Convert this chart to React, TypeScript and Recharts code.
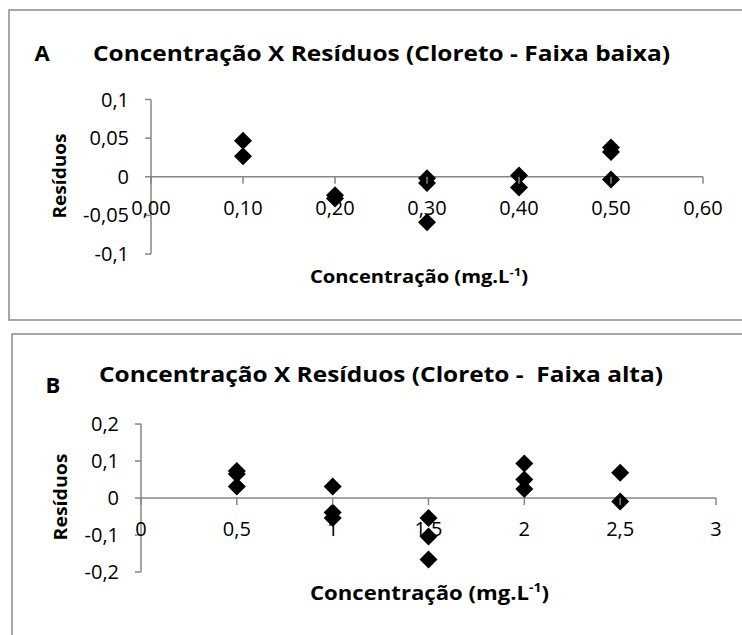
import React from 'react';
import { ScatterChart, Scatter, XAxis, YAxis, ReferenceLine } from 'recharts';

// Chart A: Cloreto - Faixa baixa
const concA = [0.1, 0.1, 0.2, 0.2, 0.3, 0.3, 0.3, 0.4, 0.4, 0.5, 0.5, 0.5];
const residA = [0.0465, 0.0265, -0.024, -0.028, -0.002, -0.008, -0.059, 0.0015, -0.014, 0.038, 0.032, -0.0035];
const ticksAX = [0, 0.1, 0.2, 0.3, 0.4, 0.5, 0.6];
const ticksAY = [-0.1, -0.05, 0, 0.05, 0.1];

// Chart B: Cloreto - Faixa alta
const concB = [0.5, 0.5, 0.5, 1, 1, 1, 1.5, 1.5, 1.5, 2, 2, 2, 2.5, 2.5];
const residB = [0.073, 0.065, 0.031, 0.031, -0.039, -0.054, -0.054, -0.104, -0.166, 0.093, 0.05, 0.024, 0.068, -0.0095];
const ticksBX = [0, 0.5, 1, 1.5, 2, 2.5, 3];
const ticksBY = [-0.2, -0.1, 0, 0.1, 0.2];

const titleA = 'Concentração X Resíduos (Cloreto - Faixa baixa)';
const titleB = 'Concentração X Resíduos (Cloreto -  Faixa alta)';
const yTitle = 'Resíduos';
const xTitle = 'Concentração (mg.L';

const dataA = concA.map((x, i) => ({ x, y: residA[i] }));
const dataB = concB.map((x, i) => ({ x, y: residB[i] }));

const FONT = '"Open Sans", "Noto Sans", sans-serif';
const AXIS = '#868686';

const comma = (v: number) => String(v).replace('.', ',');
const fmt2 = (v: number) => v.toFixed(2).replace('.', ',');

const Diamond = (props: any) => {
  const { cx, cy } = props;
  if (cx == null || cy == null) return null;
  const r = 9;
  return <path d={`M${cx},${cy - r}L${cx + r},${cy}L${cx},${cy + r}L${cx - r},${cy}Z`} fill="#000" />;
};

const XTick = (props: any) => {
  const { x, payload, zeroY, fmt } = props;
  return (
    <g>
      <line x1={x} x2={x} y1={zeroY} y2={zeroY + 7} stroke={AXIS} strokeWidth={1.5} />
      <text x={x} y={zeroY + 38} textAnchor="middle" fontSize={20} fontFamily={FONT} fill="#000">
        {fmt(payload.value)}
      </text>
    </g>
  );
};

const yTickStyle = { fill: '#000', fontSize: 20, fontFamily: FONT };

export default function App() {
  return (
    <div style={{ position: 'absolute', left: 0, top: 0, width: 742, height: 635, overflow: 'hidden', background: '#fff' }}>
      <svg width={742} height={635} style={{ position: 'absolute', left: 0, top: 0 }}>
        <rect x={9} y={10} width={800} height={310} fill="#fff" stroke="#8a8a8a" strokeWidth={1.5} />
        <rect x={12} y={334} width={800} height={400} fill="#fff" stroke="#8a8a8a" strokeWidth={1.5} />
        {/* Chart A texts */}
        <text x={42} y={61} textAnchor="middle" fontSize={22} fontWeight="bold" fontFamily={FONT} fill="#000">A</text>
        <text x={93} y={61} fontSize={22} fontWeight="bold" fontFamily={FONT} fill="#000" textLength={577} lengthAdjust="spacingAndGlyphs">{titleA}</text>
        <text x={66} y={176} transform="rotate(-90, 66, 176)" textAnchor="middle" fontSize={17} fontWeight="bold" fontFamily={FONT} fill="#000" textLength={85} lengthAdjust="spacingAndGlyphs">{yTitle}</text>
        <text x={310} y={283} fontSize={17} fontWeight="bold" fontFamily={FONT} fill="#000" textLength={218} lengthAdjust="spacingAndGlyphs">
          <tspan>{xTitle}</tspan>
          <tspan fontSize={11} dy={-7}>-1</tspan>
          <tspan dy={7}>)</tspan>
        </text>
        {/* Chart B texts */}
        <text x={53} y={393} textAnchor="middle" fontSize={22} fontWeight="bold" fontFamily={FONT} fill="#000">B</text>
        <text x={99} y={382} fontSize={22} fontWeight="bold" fontFamily={FONT} fill="#000" textLength={564} lengthAdjust="spacingAndGlyphs" style={{ whiteSpace: 'pre' }}>{titleB}</text>
        <text x={67} y={497} transform="rotate(-90, 67, 497)" textAnchor="middle" fontSize={17} fontWeight="bold" fontFamily={FONT} fill="#000" textLength={87} lengthAdjust="spacingAndGlyphs">{yTitle}</text>
        <text x={310} y={600} fontSize={19} fontWeight="bold" fontFamily={FONT} fill="#000" textLength={239} lengthAdjust="spacingAndGlyphs">
          <tspan>{xTitle}</tspan>
          <tspan fontSize={12} dy={-8}>-1</tspan>
          <tspan dy={8}>)</tspan>
        </text>
      </svg>

      <div style={{ position: 'absolute', left: 0, top: 0 }}>
        <ScatterChart width={742} height={320} margin={{ top: 99.5, right: 39, bottom: 36, left: 91 }}>
          <XAxis
            type="number"
            dataKey="x"
            domain={[0, 0.6]}
            ticks={ticksAX}
            interval={0}
            height={30}
            axisLine={false}
            tickLine={false}
            tick={<XTick zeroY={176.75} fmt={fmt2} />}
          />
          <YAxis
            type="number"
            dataKey="y"
            domain={[-0.1, 0.1]}
            ticks={ticksAY}
            interval={0}
            width={60}
            tickSize={6}
            tickMargin={16}
            tickFormatter={comma}
            tick={yTickStyle}
            axisLine={{ stroke: AXIS, strokeWidth: 1.5 }}
            tickLine={{ stroke: AXIS, strokeWidth: 1.5 }}
          />
          <ReferenceLine y={0} stroke={AXIS} strokeWidth={1.5} />
          <Scatter data={dataA} shape={Diamond} isAnimationActive={false} />
        </ScatterChart>
      </div>

      <div style={{ position: 'absolute', left: 0, top: 320 }}>
        <ScatterChart width={742} height={315} margin={{ top: 104, right: 26, bottom: 33, left: 81 }}>
          <XAxis
            type="number"
            dataKey="x"
            domain={[0, 3]}
            ticks={ticksBX}
            interval={0}
            height={30}
            axisLine={false}
            tickLine={false}
            tick={<XTick zeroY={178} fmt={comma} />}
          />
          <YAxis
            type="number"
            dataKey="y"
            domain={[-0.2, 0.2]}
            ticks={ticksBY}
            interval={0}
            width={60}
            tickSize={6}
            tickMargin={16}
            tickFormatter={comma}
            tick={yTickStyle}
            axisLine={{ stroke: AXIS, strokeWidth: 1.5 }}
            tickLine={{ stroke: AXIS, strokeWidth: 1.5 }}
          />
          <ReferenceLine y={0} stroke={AXIS} strokeWidth={1.5} />
          <Scatter data={dataB} shape={Diamond} isAnimationActive={false} />
        </ScatterChart>
      </div>
    </div>
  );
}
